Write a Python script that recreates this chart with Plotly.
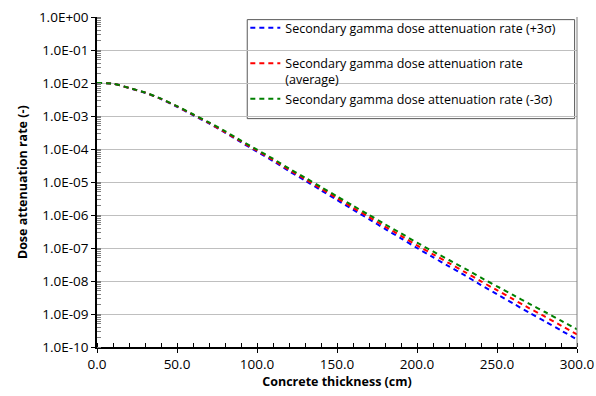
import plotly.graph_objects as go

# Concrete thickness (cm)
thickness = [0, 10, 20, 30, 40, 50, 60, 70, 80, 90, 100, 110, 120, 130, 140, 150,
             160, 170, 180, 190, 200, 210, 220, 230, 240, 250, 260, 270, 280, 290, 300]

# Secondary gamma dose attenuation rate (+3 sigma)
rate_plus3 = [1.00e-2, 9.55e-3, 7.05e-3, 5.08e-3, 3.27e-3, 1.91e-3, 1.06e-3, 5.93e-4,
              3.16e-4, 1.60e-4, 8.32e-5, 4.32e-5, 2.14e-5, 1.11e-5, 5.62e-6, 2.85e-6,
              1.45e-6, 7.50e-7, 3.80e-7, 1.97e-7, 1.00e-7, 5.27e-8, 2.78e-8, 1.47e-8,
              7.55e-9, 3.98e-9, 2.10e-9, 1.11e-9, 6.01e-10, 3.18e-10, 1.68e-10]

# Secondary gamma dose attenuation rate (average)
rate_avg = [1.00e-2, 9.55e-3, 7.08e-3, 5.13e-3, 3.31e-3, 1.95e-3, 1.10e-3, 6.17e-4,
            3.24e-4, 1.70e-4, 8.91e-5, 4.68e-5, 2.34e-5, 1.23e-5, 6.31e-6, 3.24e-6,
            1.66e-6, 8.71e-7, 4.47e-7, 2.34e-7, 1.20e-7, 6.46e-8, 3.47e-8, 1.86e-8,
            9.77e-9, 5.25e-9, 2.82e-9, 1.51e-9, 8.32e-10, 4.47e-10, 2.40e-10]

# Secondary gamma dose attenuation rate (-3 sigma)
rate_minus3 = [1.00e-2, 9.55e-3, 7.11e-3, 5.18e-3, 3.36e-3, 2.00e-3, 1.13e-3, 6.41e-4,
               3.48e-4, 1.80e-4, 9.55e-5, 5.07e-5, 2.57e-5, 1.36e-5, 7.08e-6, 3.67e-6,
               1.91e-6, 1.01e-6, 5.25e-7, 2.79e-7, 1.45e-7, 7.91e-8, 4.33e-8, 2.37e-8,
               1.26e-8, 6.92e-9, 3.78e-9, 2.06e-9, 1.15e-9, 6.28e-10, 3.43e-10]

y_tickvals = [1e0, 1e-1, 1e-2, 1e-3, 1e-4, 1e-5, 1e-6, 1e-7, 1e-8, 1e-9, 1e-10]
y_ticktext = ["1.0E+00", "1.0E-01", "1.0E-02", "1.0E-03", "1.0E-04", "1.0E-05",
              "1.0E-06", "1.0E-07", "1.0E-08", "1.0E-09", "1.0E-10"]

series = [
    ("Secondary gamma dose attenuation rate (+3σ)<br> ", rate_plus3, "#0000FF"),
    ("Secondary gamma dose attenuation rate<br>(average)", rate_avg, "#FF0000"),
    ("Secondary gamma dose attenuation rate (-3σ)", rate_minus3, "#008000"),
]

FONT = "'Open Sans', 'Noto Sans', sans-serif"

fig = go.Figure()
for name, vals, color in series:
    fig.add_trace(go.Scatter(
        x=thickness, y=vals, name=name, mode="lines",
        line=dict(color=color, width=2, dash="5px,4px", shape="spline", smoothing=0.6),
    ))

fig.update_layout(
    width=596, height=396,
    margin=dict(l=97, r=19, t=17, b=49, autoexpand=False),
    paper_bgcolor="white", plot_bgcolor="white",
    font=dict(family=FONT, size=12, color="#000000"),
    legend=dict(
        x=0.309, xanchor="left", y=1.012, yanchor="top",
        bgcolor="rgba(0,0,0,0)", borderwidth=0,
        font=dict(family=FONT, size=12.5, color="#000000"),
        valign="top", tracegroupgap=0, itemwidth=30,
    ),
    xaxis=dict(
        range=[0, 300], tickmode="linear", tick0=0, dtick=50, tickformat=".1f",
        showgrid=False, zeroline=False, automargin=False,
        showline=True, linecolor="#000000", linewidth=1.5,
        ticks="outside", ticklen=4, tickcolor="#000000",
        minor=dict(ticks="inside", ticklen=4, dtick=10, tickcolor="#000000", showgrid=False),
        title=dict(text="<b>Concrete thickness (cm)</b>", standoff=4,
                   font=dict(family=FONT, size=12.5)),
        tickfont=dict(family=FONT, size=13.5),
    ),
    yaxis=dict(
        type="log", range=[-10, 0], automargin=False,
        tickmode="array", tickvals=y_tickvals, ticktext=y_ticktext,
        showgrid=True, gridcolor="#BFBFBF", gridwidth=1, zeroline=False,
        showline=True, linecolor="#000000", linewidth=1.5,
        ticks="outside", ticklen=4, tickcolor="#000000",
        minor=dict(ticks="inside", ticklen=4, dtick="D1", tickcolor="#7F7F7F", showgrid=False),
        tickfont=dict(family=FONT, size=13.5),
    ),
    annotations=[
        # y-axis title
        dict(text="<b>Dose attenuation rate (-)</b>", xref="paper", yref="paper",
             x=-0.156, y=0.5, xanchor="center", yanchor="middle", textangle=-90,
             showarrow=False, font=dict(family=FONT, size=12.5)),
    ],
    shapes=[
        # right edge of the plot area
        dict(type="line", xref="paper", yref="paper", x0=1, x1=1, y0=0, y1=1,
             line=dict(color="#7F7F7F", width=1)),
        # white frame behind the legend entries
        dict(type="rect", xref="paper", yref="paper", x0=0.313, x1=0.995,
             y0=0.692, y1=0.992, line=dict(color="#595959", width=1),
             fillcolor="white", layer="between"),
    ],
)

fig.write_html("out.html")
